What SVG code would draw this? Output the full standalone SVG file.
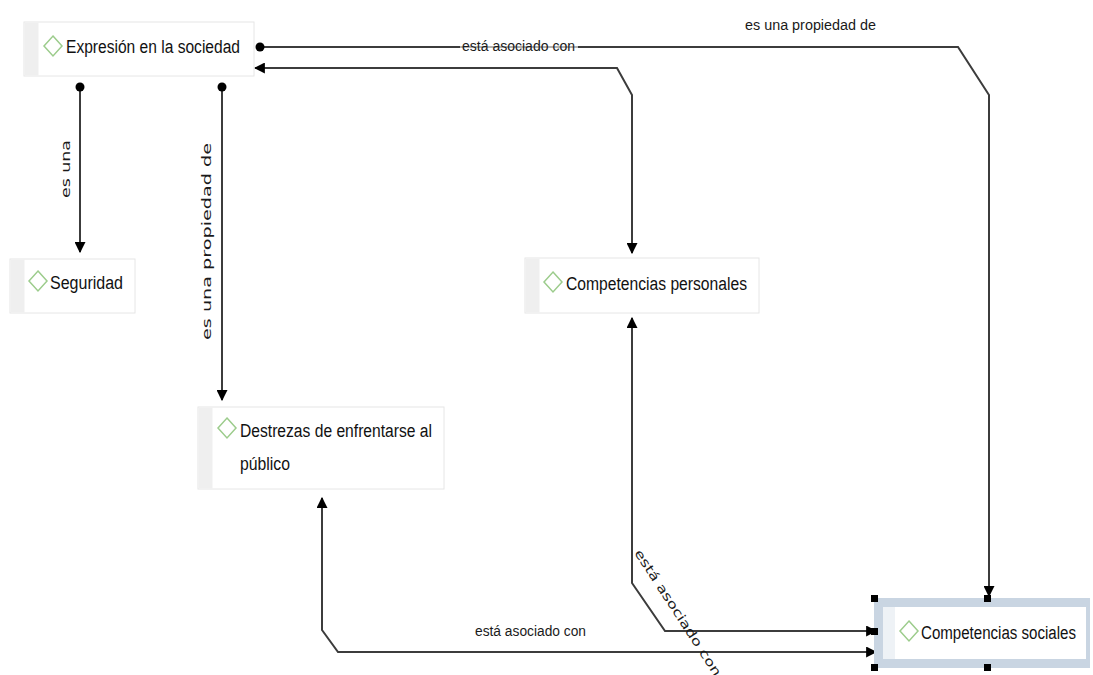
<svg xmlns="http://www.w3.org/2000/svg" width="1093" height="675" viewBox="0 0 1093 675">
<style>
.box{fill:#ffffff;stroke:#e6e6e6;stroke-width:1}
.strip{fill:#efefef}
.dia{fill:none;stroke:#9ccc8c;stroke-width:1.5}
.lbl{font-family:"Liberation Sans",Arial,sans-serif;font-size:18px;fill:#111111}
.cl{font-family:"Liberation Sans",Arial,sans-serif;font-size:14px;fill:#1a1a1a}
.rl{font-family:"DejaVu Sans",sans-serif;font-size:12.5px;fill:#1a1a1a}
.con{fill:none;stroke:#3c3c3c;stroke-width:2}
.h{fill:#000}
</style>
<defs>
<marker id="ar" viewBox="0 0 10 10" refX="9" refY="5" markerWidth="11" markerHeight="11" markerUnits="userSpaceOnUse" orient="auto-start-reverse">
<path d="M0,0 L10,5 L0,10 z" fill="#000"/>
</marker>
<marker id="dot" viewBox="0 0 10 10" refX="5" refY="5" markerWidth="10" markerHeight="10" markerUnits="userSpaceOnUse">
<circle cx="5" cy="5" r="4.5" fill="#000"/>
</marker>
</defs>
<rect width="1093" height="675" fill="#ffffff"/>

<g id="connectors">
<path class="con" d="M260,47 L958,47 L989,95 L989,596" marker-start="url(#dot)" marker-end="url(#ar)"/>
<path class="con" d="M255,68 L617,68 L632,95 L632,253" marker-start="url(#ar)" marker-end="url(#ar)"/>
<path class="con" d="M80,87 L80,252" marker-start="url(#dot)" marker-end="url(#ar)"/>
<path class="con" d="M222,87 L222,400" marker-start="url(#dot)" marker-end="url(#ar)"/>
<path class="con" d="M632,318 L632,583 L665,631 L876,631" marker-start="url(#ar)" marker-end="url(#ar)"/>
<path class="con" d="M322,498 L322,630 L338,652 L876,652" marker-start="url(#ar)" marker-end="url(#ar)"/>
<rect x="460" y="38" width="118" height="16" fill="#ffffff" opacity="0.6"/>
<text class="cl" x="462" y="51" textLength="113" lengthAdjust="spacingAndGlyphs">está asociado con</text>
<text class="cl" x="745" y="30" textLength="131" lengthAdjust="spacingAndGlyphs">es una propiedad de</text>
<text class="cl" x="475" y="636" textLength="111" lengthAdjust="spacingAndGlyphs">está asociado con</text>
<text class="rl" transform="translate(70,198) rotate(-90)" textLength="58" lengthAdjust="spacingAndGlyphs">es una</text>
<text class="rl" transform="translate(211,340) rotate(-90)" textLength="197" lengthAdjust="spacingAndGlyphs">es una propiedad de</text>
<text class="rl" transform="translate(634,553) rotate(57)" textLength="148" lengthAdjust="spacingAndGlyphs">está asociado con</text>
</g>

<g id="n-expresion">
<rect class="box" x="24" y="22" width="230" height="54"/>
<rect class="strip" x="24.5" y="22.5" width="14" height="53"/>
<path class="dia" d="M53,36 L62,46 L53,56 L44,46 z"/>
<text class="lbl" x="66" y="53" textLength="174" lengthAdjust="spacingAndGlyphs">Expresión en la sociedad</text>
</g>

<g id="n-seguridad">
<rect class="box" x="10" y="259" width="125" height="54"/>
<rect class="strip" x="10.5" y="259.5" width="14" height="53"/>
<path class="dia" d="M38,271 L47,281 L38,291 L29,281 z"/>
<text class="lbl" x="50" y="289" textLength="73" lengthAdjust="spacingAndGlyphs">Seguridad</text>
</g>

<g id="n-destrezas">
<rect class="box" x="198" y="407" width="246" height="82"/>
<rect class="strip" x="198.5" y="407.5" width="14" height="81"/>
<path class="dia" d="M227,418 L236,428 L227,438 L218,428 z"/>
<text class="lbl" x="240" y="437" textLength="192" lengthAdjust="spacingAndGlyphs">Destrezas de enfrentarse al</text>
<text class="lbl" x="240" y="470" textLength="50" lengthAdjust="spacingAndGlyphs">público</text>
</g>

<g id="n-personales">
<rect class="box" x="525" y="258" width="234" height="55"/>
<rect class="strip" x="525.5" y="258.5" width="14" height="54"/>
<path class="dia" d="M553,272 L562,282 L553,292 L544,282 z"/>
<text class="lbl" x="566" y="290" textLength="181" lengthAdjust="spacingAndGlyphs">Competencias personales</text>
</g>

<g id="n-sociales">
<rect x="874" y="598" width="216" height="70" fill="#c9d5e2"/>
<rect x="883" y="607" width="203" height="52" fill="#ffffff"/>
<rect x="883" y="607" width="12" height="52" fill="#eef2f6"/>
<path class="dia" d="M909,621 L918,631 L909,641 L900,631 z"/>
<text class="lbl" x="921" y="639" textLength="155" lengthAdjust="spacingAndGlyphs">Competencias sociales</text>
<rect class="h" x="871" y="595" width="7" height="7"/>
<rect class="h" x="984" y="595" width="7" height="7"/>
<rect class="h" x="871" y="628" width="7" height="7"/>
<rect class="h" x="871" y="664" width="7" height="7"/>
<rect class="h" x="984" y="664" width="7" height="7"/>
</g>
</svg>
